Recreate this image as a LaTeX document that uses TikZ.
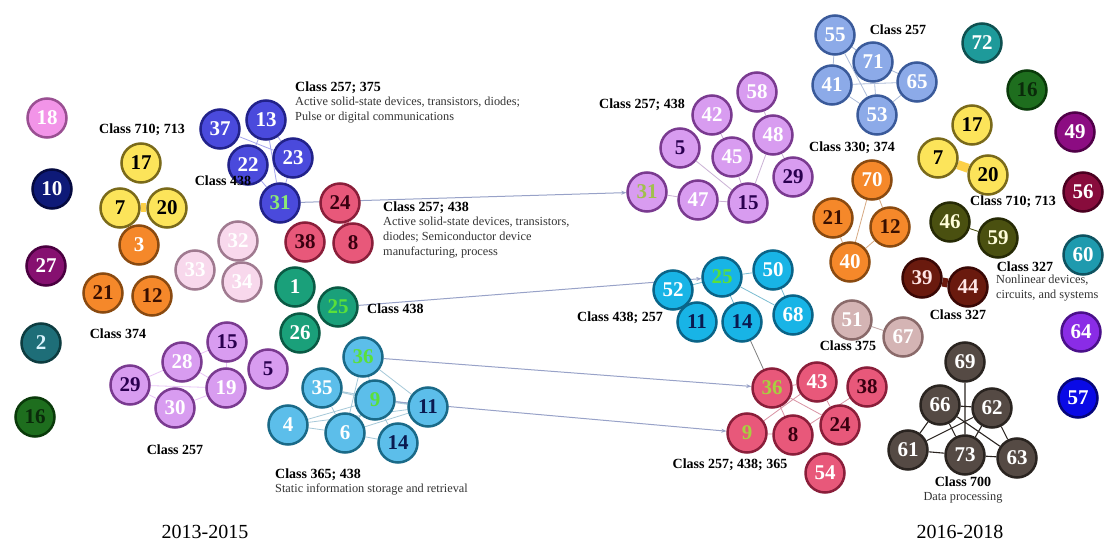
\documentclass[tikz,border=0pt]{standalone}
\usepackage{fontspec}
\setmainfont{Liberation Serif}
\usetikzlibrary{backgrounds,arrows.meta}
\definecolor{cPink}{HTML}{F294E8}\definecolor{cPinkB}{HTML}{9A4F92}
\definecolor{cNavy}{HTML}{0E1A78}\definecolor{cNavyB}{HTML}{050A40}
\definecolor{cPurp}{HTML}{861070}\definecolor{cPurpB}{HTML}{4A0040}
\definecolor{cTeal}{HTML}{1E6E78}\definecolor{cTealB}{HTML}{0D3C40}
\definecolor{cDG}{HTML}{1E6E1E}\definecolor{cDGB}{HTML}{0A3A0A}\definecolor{cDGT}{HTML}{0A2A0A}
\definecolor{cYel}{HTML}{FCE45A}\definecolor{cYelB}{HTML}{7A6A1A}
\definecolor{cOra}{HTML}{F5882A}\definecolor{cOraB}{HTML}{8A4A10}\definecolor{cOraT}{HTML}{3A1000}
\definecolor{cPale}{HTML}{F8D8EC}\definecolor{cPaleB}{HTML}{A07A90}
\definecolor{cBlu}{HTML}{4A4ADC}\definecolor{cBluB}{HTML}{22228A}
\definecolor{cRed}{HTML}{E8587A}\definecolor{cRedB}{HTML}{8A1E3A}\definecolor{cRedT}{HTML}{3A0010}
\definecolor{cGrn}{HTML}{1AA07A}\definecolor{cGrnB}{HTML}{0A5A44}
\definecolor{cLil}{HTML}{D89CF0}\definecolor{cLilB}{HTML}{7A3A90}\definecolor{cLilT}{HTML}{2A0050}
\definecolor{cLB}{HTML}{5CBEEA}\definecolor{cLBB}{HTML}{1A6A88}\definecolor{cLBT}{HTML}{0A1A50}
\definecolor{cCorn}{HTML}{8CAAE8}\definecolor{cCornB}{HTML}{3A5A9A}
\definecolor{cTeal2}{HTML}{1E9A9A}\definecolor{cTeal2B}{HTML}{0E5050}
\definecolor{cMag}{HTML}{8C0C82}\definecolor{cMagB}{HTML}{500048}
\definecolor{cMar}{HTML}{880C3C}\definecolor{cMarB}{HTML}{4A0020}
\definecolor{cTeal3}{HTML}{1E9AAE}\definecolor{cTeal3B}{HTML}{0E5260}
\definecolor{cVio}{HTML}{8A2CE6}\definecolor{cVioB}{HTML}{4A108A}
\definecolor{cBlue2}{HTML}{0A0AE6}\definecolor{cBlue2B}{HTML}{05057A}
\definecolor{cOli}{HTML}{4A5010}\definecolor{cOliB}{HTML}{262A05}
\definecolor{cBrn}{HTML}{6A1A0E}\definecolor{cBrnB}{HTML}{3A0805}
\definecolor{cTau}{HTML}{D4B4B4}\definecolor{cTauB}{HTML}{8A6A6A}
\definecolor{cGry}{HTML}{554A44}\definecolor{cGryB}{HTML}{2A2420}
\definecolor{cCyan}{HTML}{18B4E6}\definecolor{cCyanB}{HTML}{0A6488}
\definecolor{gTxt}{HTML}{5AE03A}
\definecolor{gTxt2}{HTML}{A8D040}
\definecolor{lnk}{HTML}{98A2C8}
\tikzset{
 cn/.style={circle, minimum size=39pt, inner sep=0pt, line width=2.5pt, font=\fontsize{21}{21}\selectfont\bfseries, text=white},
 pink/.style={cn, fill=cPink, draw=cPinkB},
 navy/.style={cn, fill=cNavy, draw=cNavyB},
 purp/.style={cn, fill=cPurp, draw=cPurpB},
 teal/.style={cn, fill=cTeal, draw=cTealB},
 dgrn/.style={cn, fill=cDG, draw=cDGB, text=cDGT},
 yel/.style={cn, fill=cYel, draw=cYelB, text=black},
 ora/.style={cn, fill=cOra, draw=cOraB},
 pale/.style={cn, fill=cPale, draw=cPaleB},
 blu/.style={cn, fill=cBlu, draw=cBluB},
 red/.style={cn, fill=cRed, draw=cRedB, text=cRedT},
 grn/.style={cn, fill=cGrn, draw=cGrnB},
 lil/.style={cn, fill=cLil, draw=cLilB},
 lb/.style={cn, fill=cLB, draw=cLBB},
 corn/.style={cn, fill=cCorn, draw=cCornB},
 teal2/.style={cn, fill=cTeal2, draw=cTeal2B},
 mag/.style={cn, fill=cMag, draw=cMagB},
 mar/.style={cn, fill=cMar, draw=cMarB},
 teal3/.style={cn, fill=cTeal3, draw=cTeal3B},
 vio/.style={cn, fill=cVio, draw=cVioB},
 blue2/.style={cn, fill=cBlue2, draw=cBlue2B},
 oli/.style={cn, fill=cOli, draw=cOliB, text=white!85!yellow},
 brn/.style={cn, fill=cBrn, draw=cBrnB, text=white!90!red},
 tau/.style={cn, fill=cTau, draw=cTauB},
 gry/.style={cn, fill=cGry, draw=cGryB},
 cya/.style={cn, fill=cCyan, draw=cCyanB},
 cls/.style={font=\fontsize{14}{14}\selectfont\bfseries, inner sep=0pt},
 dsc/.style={font=\fontsize{12.3}{15}\selectfont, inner sep=0pt, align=left, text=black!80},
 yr/.style={font=\fontsize{20}{20}\selectfont, inner sep=0pt},
 lng/.style={draw=lnk, line width=1pt, -{Stealth[length=5pt,width=4pt]}},
 inl/.style={draw=#1, line width=0.8pt},
 thk/.style={draw=#1, line width=9pt},
}
\begin{document}
\begin{tikzpicture}[x=1pt,y=-1pt]
% ---------- left 2013-2015 ----------
\node[pink] (L18) at (47,118) {18};
\node[navy] (L10) at (52,189) {10};
\node[purp] (L27) at (46,266) {27};
\node[teal,text=white!85!cyan] (L2) at (41,343) {2};
\node[dgrn] (L16) at (35,417) {16};
\node[yel] (L17) at (141,163) {17};
\node[yel] (L7) at (120,208) {7};
\node[yel] (L20) at (167,208) {20};
\node[ora] (L3) at (139,245) {3};
\node[ora,text=cOraT] (L21) at (103,293) {21};
\node[ora,text=cOraT] (L12) at (152,296) {12};
\node[pale] (L32) at (238,241) {32};
\node[pale] (L33) at (195,270) {33};
\node[pale] (L34) at (242,282) {34};
\node[blu] (L37) at (220,129) {37};
\node[blu] (L13) at (266,120) {13};
\node[blu] (L22) at (248,165) {22};
\node[blu] (L23) at (293,158) {23};
\node[blu,text=gTxt!70!white] (L31) at (280,203) {31};
\node[red] (L24) at (340,203) {24};
\node[red] (L38) at (305,242) {38};
\node[red] (L8) at (353,243) {8};
\node[grn] (L1) at (295,287) {1};
\node[grn,text=gTxt] (L25) at (338,307) {25};
\node[grn] (L26) at (300,333) {26};
\node[lil,text=cLilT] (L15) at (227,342) {15};
\node[lil] (L28) at (182,362) {28};
\node[lil,text=cLilT] (L29) at (130,385) {29};
\node[lil] (L19) at (226,388) {19};
\node[lil] (L30) at (175,408) {30};
\node[lil,text=cLilT] (L5) at (268,369) {5};
\node[lb,text=gTxt] (L36) at (363,357) {36};
\node[lb] (L35) at (322,388) {35};
\node[lb,text=gTxt] (L9) at (375,400) {9};
\node[lb] (L4) at (288,425) {4};
\node[lb] (L6) at (345,433) {6};
\node[lb,text=cLBT] (L11) at (428,407) {11};
\node[lb,text=cLBT] (L14) at (398,443) {14};
% labels left
\node[cls] (tL1) at (142,130) {Class 710; 713};
\node[cls] (tL2) at (223,181) {Class 438};
\node[cls] (tL3) at (118,334) {Class 374};
\node[cls] (tL4) at (175,450) {Class 257};
\node[cls,anchor=west] (tL5) at (295,88) {Class 257; 375};
\node[dsc,anchor=north west] (dL5) at (295,97) {Active solid-state devices, transistors, diodes;\\Pulse or digital communications};
\node[cls,anchor=west] (tL6) at (383,208) {Class 257; 438};
\node[dsc,anchor=north west] (dL6) at (383,217) {Active solid-state devices, transistors,\\diodes; Semiconductor device\\manufacturing, process};
\node[cls,anchor=west] (tL7) at (367,309) {Class 438};
\node[cls,anchor=west] (tL8) at (275,475) {Class 365; 438};
\node[dsc,anchor=north west] (dL8) at (275,484) {Static information storage and retrieval};
\node[yr] (yL) at (205,532) {2013-2015};
% ---------- right 2016-2018 ----------
\node[lil] (R58) at (757,92) {58};
\node[lil] (R42) at (712,115) {42};
\node[lil,text=cLilT] (R5) at (680,148) {5};
\node[lil] (R48) at (773,135) {48};
\node[lil] (R45) at (732,157) {45};
\node[lil,text=cLilT] (R29) at (793,177) {29};
\node[lil,text=gTxt2!80!gray] (R31) at (647,192) {31};
\node[lil] (R47) at (698,200) {47};
\node[lil,text=cLilT] (R15) at (748,203) {15};
\node[corn] (R55) at (835,35) {55};
\node[corn] (R71) at (873,62) {71};
\node[corn] (R41) at (832,85) {41};
\node[corn] (R65) at (917,82) {65};
\node[corn] (R53) at (877,115) {53};
\node[teal2] (R72) at (982,43) {72};
\node[dgrn] (R16) at (1027,90) {16};
\node[mag] (R49) at (1075,132) {49};
\node[mar] (R56) at (1083,192) {56};
\node[teal3] (R60) at (1083,255) {60};
\node[vio] (R64) at (1081,332) {64};
\node[blue2] (R57) at (1078,398) {57};
\node[yel] (R17) at (972,125) {17};
\node[yel] (R7) at (938,158) {7};
\node[yel] (R20) at (988,175) {20};
\node[ora] (R70) at (872,180) {70};
\node[ora,text=cOraT] (R21) at (833,218) {21};
\node[ora,text=cOraT] (R12) at (890,227) {12};
\node[ora] (R40) at (850,262) {40};
\node[oli] (R46) at (950,222) {46};
\node[oli] (R59) at (998,238) {59};
\node[brn] (R39) at (922,278) {39};
\node[brn] (R44) at (968,287) {44};
\node[tau] (R51) at (852,320) {51};
\node[tau] (R67) at (903,337) {67};
\node[gry] (R69) at (965,362) {69};
\node[gry] (R66) at (940,405) {66};
\node[gry] (R62) at (992,408) {62};
\node[gry] (R61) at (908,450) {61};
\node[gry] (R73) at (965,455) {73};
\node[gry] (R63) at (1017,458) {63};
\node[cya] (R52) at (673,290) {52};
\node[cya,text=gTxt] (R25) at (722,277) {25};
\node[cya] (R50) at (773,270) {50};
\node[cya,text=cLBT] (R11) at (697,322) {11};
\node[cya,text=cLBT] (R14) at (742,322) {14};
\node[cya] (R68) at (793,315) {68};
\node[red,text=gTxt2] (R36) at (772,388) {36};
\node[red,text=white] (R43) at (817,382) {43};
\node[red] (R38) at (867,387) {38};
\node[red,text=gTxt2] (R9) at (747,433) {9};
\node[red] (R8) at (793,435) {8};
\node[red] (R24) at (840,425) {24};
\node[red,text=white] (R54) at (825,473) {54};
% labels right
\node[cls] (tR1) at (642,105) {Class 257; 438};
\node[cls] (tR2) at (898,30) {Class 257};
\node[cls] (tR3) at (852,148) {Class 330; 374};
\node[cls] (tR4) at (1013,202) {Class 710; 713};
\node[cls] (tR5) at (1025,267) {Class 327};
\node[dsc,anchor=north west] (dR5) at (996,275) {Nonlinear devices,\\circuits, and systems};
\node[cls] (tR6) at (958,315) {Class 327};
\node[cls] (tR7) at (848,346) {Class 375};
\node[cls] (tR8) at (620,318) {Class 438; 257};
\node[cls] (tR9) at (730,465) {Class 257; 438; 365};
\node[cls] (tR10) at (963,482) {Class 700};
\node[dsc] (dR10) at (963,498) {Data processing};
\node[yr] (yR) at (960,532) {2016-2018};
% ---------- connectors ----------
\begin{scope}[on background layer]
\fill[white] (0,0) rectangle (1104,548);
% thick pair links
\draw[thk=cYel!80!orange] (L7) -- (L20);
\draw[thk=cRed] (L24) -- (L8);
\draw[thk=cYel!80!orange] (R7) -- (R20);
\draw[thk=cBrn] (R39) -- (R44);
% inner cluster links
\draw[inl=cBlu!50!white] (L13) -- (L22) (L13) -- (L23) (L37) -- (L23) (L22) -- (L31) (L23) -- (L31) (L13) -- (L31);
\draw[inl=cLil!60!white] (L29) -- (L28) (L29) -- (L30) (L28) -- (L19) (L30) -- (L19) (L28) -- (L15) (L29) -- (L19) (L15) -- (L19);
\draw[inl=cLB!60!gray!60!white] (L36) -- (L9) (L36) -- (L11) (L35) -- (L9) (L35) -- (L6) (L4) -- (L9) (L4) -- (L6) (L6) -- (L9) (L9) -- (L11) (L9) -- (L14) (L6) -- (L14) (L6) -- (L11) (L4) -- (L11) (L35) -- (L11) (L36) -- (L6);
\draw[inl=cLil!60!gray!70!white] (R5) -- (R15) (R45) -- (R15) (R48) -- (R15) (R48) -- (R29) (R42) -- (R45) (R58) -- (R48) (R31) -- (R47) (R47) -- (R15);
\draw[inl=cCorn!70!gray!70!white] (R55) -- (R41) (R55) -- (R71) (R71) -- (R53) (R41) -- (R53) (R65) -- (R53) (R71) -- (R65) (R41) -- (R65) (R55) -- (R53);
\draw[inl=cOra!60!gray!70!white] (R70) -- (R40) (R12) -- (R40) (R21) -- (R40) (R70) -- (R12);
\draw[inl=cOli] (R46) -- (R59);
\draw[inl=cTau!80!gray] (R51) -- (R67);
\draw[inl=cCyan!60!gray!70!white] (R25) -- (R50) (R25) -- (R68) (R50) -- (R68) (R25) -- (R14) (R52) -- (R25);
\draw[inl=gray] (R14) -- (R36);
\draw[inl=cRed!70!gray!70!white] (R36) -- (R8) (R9) -- (R43) (R36) -- (R24) (R43) -- (R24) (R38) -- (R8) (R9) -- (R8) (R36) -- (R43);
\draw[draw=cGryB, line width=1.1pt] (R69) -- (R73) (R66) -- (R61) (R62) -- (R63) (R61) -- (R73) (R73) -- (R63) (R66) -- (R63) (R62) -- (R61) (R66) -- (R62) (R66) -- (R73) (R62) -- (R73);
% long links between periods
\draw[lng] (L31) -- (R31);
\draw[lng] (L25) -- (R25);
\draw[lng] (L36) -- (R36);
\draw[lng] (L9) -- (R9);
\end{scope}
\end{tikzpicture}
\end{document}
